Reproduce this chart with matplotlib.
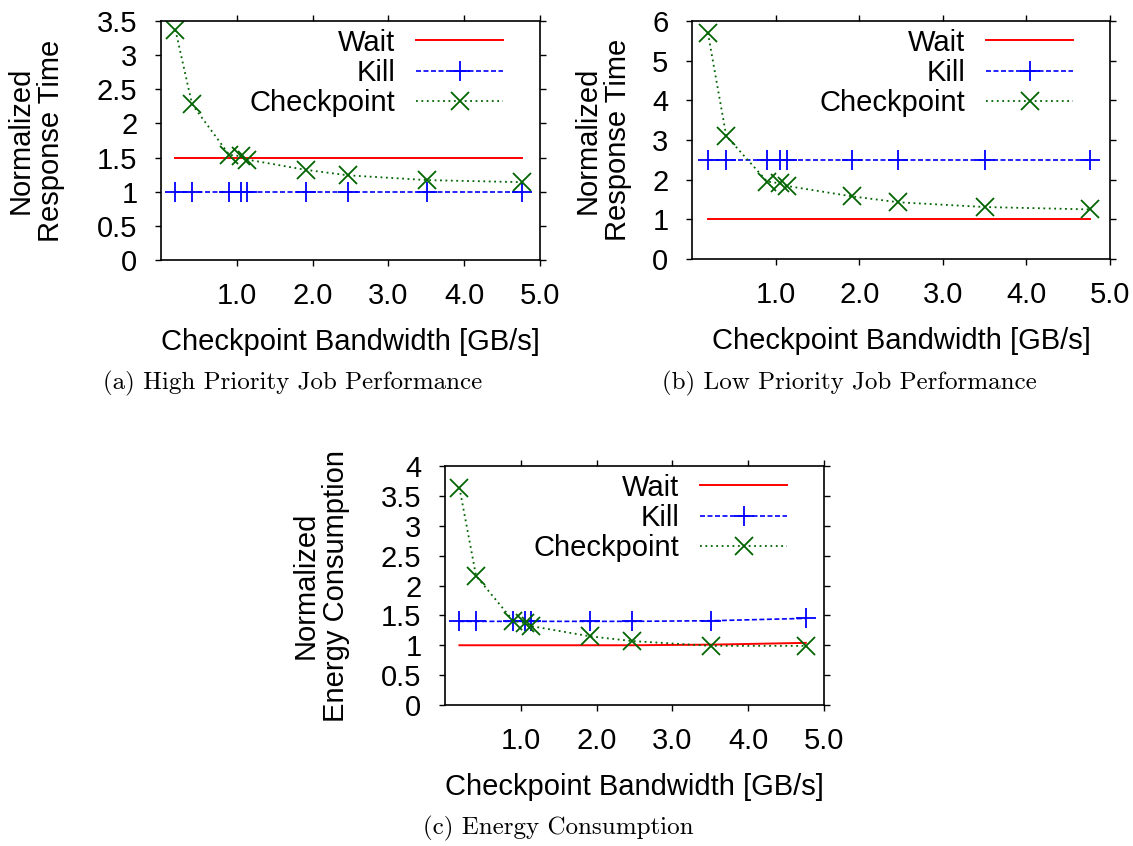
import matplotlib
matplotlib.use("Agg")
import matplotlib.pyplot as plt

plt.rcParams["font.family"] = ["Liberation Sans", "DejaVu Sans"]

# bandwidth settings used in the experiments [GB/s]
bandwidth = [0.19, 0.41, 0.90, 1.05, 1.14, 1.91, 2.47, 3.51, 4.76]

# (a) high priority jobs
high_wait = [1.5, 1.5, 1.5, 1.5, 1.5, 1.5, 1.5, 1.5, 1.5]
high_kill = [1.0, 1.0, 1.0, 1.0, 1.0, 1.0, 1.0, 1.0, 1.0]
high_ckpt = [3.37, 2.28, 1.54, 1.52, 1.47, 1.32, 1.24, 1.17, 1.14]

# (b) low priority jobs
low_wait = [1.0, 1.0, 1.0, 1.0, 1.0, 1.0, 1.0, 1.0, 1.0]
low_kill = [2.5, 2.5, 2.5, 2.5, 2.5, 2.5, 2.5, 2.5, 2.5]
low_ckpt = [5.70, 3.10, 1.95, 1.91, 1.84, 1.58, 1.43, 1.31, 1.25]

# (c) energy
energy_wait = [1.0, 1.0, 1.0, 1.0, 1.0, 1.0, 1.0, 1.01, 1.04]
energy_kill = [1.40, 1.40, 1.40, 1.40, 1.40, 1.40, 1.40, 1.41, 1.45]
energy_ckpt = [3.64, 2.16, 1.41, 1.37, 1.32, 1.15, 1.07, 0.99, 0.99]

xticks = [1.0, 2.0, 3.0, 4.0, 5.0]
xtick_labels = ["1.0", "2.0", "3.0", "4.0", "5.0"]

W, H = 1133, 846
FS = 21


def add_axes(fig, left, right, top, bottom):
    return fig.add_axes([left / W, 1 - bottom / H, (right - left) / W, (bottom - top) / H])


def draw_panel(ax, wait, kill, ckpt, ymax, ystep, ylabel, label_x):
    ax.plot(bandwidth, wait, color="#ff0000", lw=1.4, label="Wait")
    ax.plot(bandwidth, kill, color="#0000ff", lw=1.2, ls=(0, (3, 1.5)),
            marker="+", ms=14, mew=1.3, label="Kill")
    ax.plot(bandwidth, ckpt, color="#006400", lw=1.3, ls=(0, (1, 2)),
            marker="x", ms=13, mew=1.3, label="Checkpoint")

    ax.set_xlim(0, 5)
    ax.set_ylim(0, ymax)
    ax.set_xticks(xticks)
    ax.set_xticklabels(xtick_labels)
    yt = [i * ystep for i in range(int(round(ymax / ystep)) + 1)]
    ax.set_yticks(yt)
    ax.set_yticklabels(["%g" % v for v in yt])
    ax.tick_params(direction="out", length=4, width=1, top=True, right=True,
                   labelsize=FS, colors="black")
    ax.tick_params(axis="x", pad=12)
    ax.tick_params(axis="y", pad=13)
    for s in ax.spines.values():
        s.set_linewidth(1.2)

    ax.set_xlabel("Checkpoint Bandwidth [GB/s]", fontsize=FS, labelpad=13)
    ax.set_ylabel(ylabel, fontsize=FS, linespacing=1.1, ha="center", va="center")
    ax.yaxis.set_label_coords(label_x, 0.5)

    # legend text sits left of the line sample, right aligned
    w = ax.get_position().width * W
    h = ax.get_position().height * H
    ax.legend(loc="upper right", bbox_to_anchor=(1 - 22 / w, 1 + 7 / h),
              markerfirst=False, frameon=False, fontsize=FS,
              handlelength=3.0, handletextpad=0.7, labelspacing=0.08,
              borderaxespad=0.3, borderpad=0.2)


fig = plt.figure(figsize=(W / 100, H / 100), dpi=100)

ax_a = add_axes(fig, 161, 540, 21, 260)
draw_panel(ax_a, high_wait, high_kill, high_ckpt, 3.5, 0.5,
           "Normalized\nResponse Time", -0.33)

ax_b = add_axes(fig, 692, 1110, 21, 259)
draw_panel(ax_b, low_wait, low_kill, low_ckpt, 6, 1,
           "Normalized\nResponse Time", -0.213)

ax_c = add_axes(fig, 445, 824, 466, 705)
draw_panel(ax_c, energy_wait, energy_kill, energy_ckpt, 4, 0.5,
           "Normalized\nEnergy Consumption", -0.327)

cap = dict(family="cmr10", fontsize=18, ha="center", va="center")
fig.text(293 / W, 1 - 383 / H, "(a) High Priority Job Performance", **cap)
fig.text(849 / W, 1 - 383 / H, "(b) Low Priority Job Performance", **cap)
fig.text(558 / W, 1 - 828 / H, "(c) Energy Consumption", **cap)

fig.savefig("out.png", dpi=100)
